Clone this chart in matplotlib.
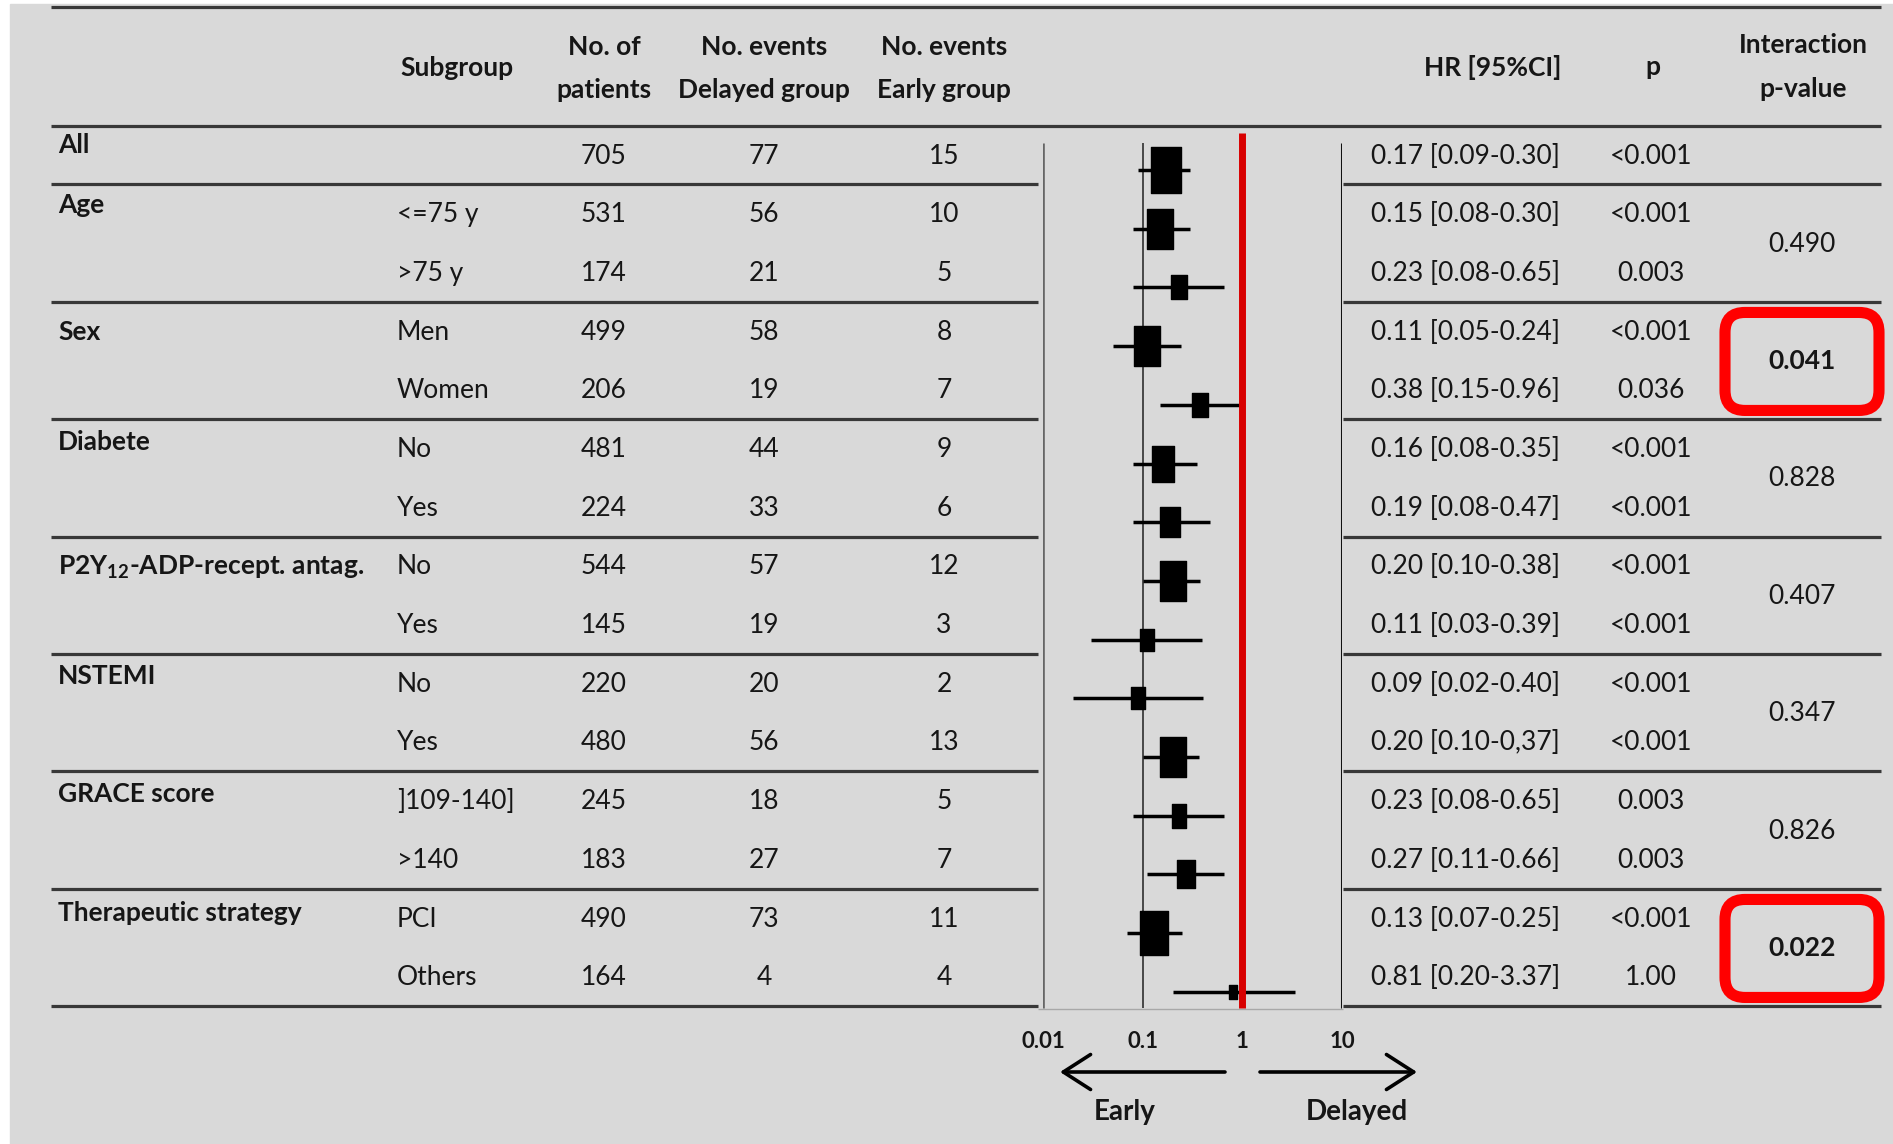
import numpy as np
import matplotlib.pyplot as plt
from matplotlib.path import Path
from matplotlib.patches import FancyBboxPatch, Rectangle

plt.rcParams['font.family'] = ['Lato', 'DejaVu Sans']
plt.rcParams['mathtext.default'] = 'regular'

# subgroup table
groups = ["All", "Age", "Sex", "Diabete", r"P2Y$_{12}$-ADP-recept. antag.",
          "NSTEMI", "GRACE score", "Therapeutic strategy"]
group_sizes = [1, 2, 2, 2, 2, 2, 2, 2]
subgroups = ["", "<=75 y", ">75 y", "Men", "Women", "No", "Yes", "No", "Yes",
             "No", "Yes", "]109-140]", ">140", "PCI", "Others"]
n_patients = [705, 531, 174, 499, 206, 481, 224, 544, 145, 220, 480, 245, 183, 490, 164]
ev_delayed = [77, 56, 21, 58, 19, 44, 33, 57, 19, 20, 56, 18, 27, 73, 4]
ev_early = [15, 10, 5, 8, 7, 9, 6, 12, 3, 2, 13, 5, 7, 11, 4]
hr = [0.17, 0.15, 0.23, 0.11, 0.38, 0.16, 0.19, 0.20, 0.11, 0.09, 0.20, 0.23, 0.27, 0.13, 0.81]
ci_lo = [0.09, 0.08, 0.08, 0.05, 0.15, 0.08, 0.08, 0.10, 0.03, 0.02, 0.10, 0.08, 0.11, 0.07, 0.20]
ci_hi = [0.30, 0.30, 0.65, 0.24, 0.96, 0.35, 0.47, 0.38, 0.39, 0.40, 0.37, 0.65, 0.66, 0.25, 3.37]
p_vals = ["<0.001", "<0.001", "0.003", "<0.001", "0.036", "<0.001", "<0.001", "<0.001",
          "<0.001", "<0.001", "<0.001", "0.003", "0.003", "<0.001", "1.00"]
p_inter = ["", "0.490", "0.041", "0.828", "0.407", "0.347", "0.826", "0.022"]
p_flagged = ["0.041", "0.022"]
x_ticks = [0.01, 0.1, 1, 10]
x_ticklabels = ["0.01", "0.1", "1", "10"]

W, H = 1893, 1144
BG = '#d9d9d9'
TXT = '#161616'
LINE = '#383838'
FS = 19

fig = plt.figure(figsize=(W / 100, H / 100), dpi=100, facecolor='white')
ax = fig.add_axes([0, 0, 1, 1])
ax.set_xlim(0, W)
ax.set_ylim(H, 0)
ax.axis('off')
ax.add_patch(Rectangle((10, 4), W - 10, H - 4, color=BG, zorder=0))

row_y = 156 + 58.7 * np.arange(len(subgroups))
dy = 58.7

# header
hdr = dict(fontsize=FS, fontweight='bold', color=TXT, ha='center', va='center')
ax.text(457, 68, "Subgroup", **hdr)
ax.text(604, 47, "No. of", **hdr)
ax.text(604, 90, "patients", **hdr)
ax.text(764, 47, "No. events", **hdr)
ax.text(764, 90, "Delayed group", **hdr)
ax.text(944, 47, "No. events", **hdr)
ax.text(944, 90, "Early group", **hdr)
ax.text(1493, 67, "HR [95%CI]", **hdr)
ax.text(1653, 67, "p", **hdr)
ax.text(1803, 45, "Interaction", **hdr)
ax.text(1803, 89, "p-value", **hdr)

ax.hlines([7, 126], 51, 1881, color=LINE, lw=2.3)

# table body
cell = dict(fontsize=FS, color=TXT, va='center')
for i in range(len(subgroups)):
    y = row_y[i]
    ax.text(397, y, subgroups[i], ha='left', **cell)
    ax.text(604, y, str(n_patients[i]), ha='center', **cell)
    ax.text(764, y, str(ev_delayed[i]), ha='center', **cell)
    ax.text(944, y, str(ev_early[i]), ha='center', **cell)
    label = f"{hr[i]:.2f} [{ci_lo[i]:.2f}-{ci_hi[i]:.2f}]"
    if i == 10:
        label = label.replace("-0.37", "-0,37")
    ax.text(1371, y, label, ha='left', **cell)
    ax.text(1651, y, p_vals[i], ha='center', **cell)

label_shift = [-11, -10, 0, -7, 0, -8, -8, -6]
start = 0
for g, size in enumerate(group_sizes):
    rows = row_y[start:start + size]
    ax.text(58, rows[0] + label_shift[g], groups[g], ha='left', fontweight='bold', **cell)
    y_sep = rows[-1] + dy / 2 - 1
    ax.hlines(y_sep, 51, 1038, color=LINE, lw=2.3)
    ax.hlines(y_sep, 1343, 1881, color=LINE, lw=2.3)
    if p_inter[g]:
        yc = rows.mean()
        flagged = p_inter[g] in p_flagged
        ax.text(1802, yc, p_inter[g], ha='center',
                fontweight='bold' if flagged else 'normal', **cell)
        if flagged:
            ax.add_patch(FancyBboxPatch((1802 - 77, yc - 49), 154, 98,
                                        boxstyle='round,pad=0,rounding_size=20',
                                        fill=False, ec='#ff0000', lw=8, zorder=5))
    start += size

ax.hlines(1009, 1038, 1343, color='#a8a8a8', lw=1)

# forest plot
fax = fig.add_axes([1043 / W, 0, 299 / W, 1])
fax.set_xscale('log')
fax.set_xlim(0.01, 10)
fax.set_ylim(H, 0)
fax.axis('off')
fax.patch.set_alpha(0)

fax.vlines(0.01, 143, 1008, color='#666666', lw=1.9)
fax.vlines(0.1, 143, 1008, color='#3c3c3c', lw=1.3)
fax.vlines(10, 143, 1008, color='#111111', lw=2.2)
fax.vlines(1, 133, 1008, color='#d80000', lw=5, zorder=4)

box = Path([(-0.315, -0.5), (0.315, -0.5), (0.315, 0.5), (-0.315, 0.5), (-0.315, -0.5)],
           [Path.MOVETO, Path.LINETO, Path.LINETO, Path.LINETO, Path.CLOSEPOLY])
marker_y = row_y + 14
fax.hlines(marker_y, ci_lo, ci_hi, color='black', lw=2.5, zorder=3)
for i in range(len(hr)):
    events = ev_delayed[i] + ev_early[i]
    h_px = 4.9 * np.sqrt(events)
    fax.plot(hr[i], marker_y[i], marker=box, ms=h_px * 0.72, color='black',
             ls='none', zorder=3)

for v, lab in zip(x_ticks, x_ticklabels):
    fax.text(v, 1041, lab, ha='center', va='center', fontsize=16,
             fontweight='bold', color=TXT)

arrow = dict(arrowstyle='->,head_length=0.7,head_width=0.45', lw=2.6,
             color='black', mutation_scale=28, shrinkA=0, shrinkB=0)
ax.annotate('', xy=(1060, 1072), xytext=(1225, 1072), arrowprops=arrow)
ax.annotate('', xy=(1417, 1072), xytext=(1260, 1072), arrowprops=arrow)
ax.text(1125, 1112, "Early", ha='center', va='center', fontsize=20,
        fontweight='bold', color=TXT)
ax.text(1357, 1112, "Delayed", ha='center', va='center', fontsize=20,
        fontweight='bold', color=TXT)

fig.savefig('out.png', dpi=100, facecolor=fig.get_facecolor())
